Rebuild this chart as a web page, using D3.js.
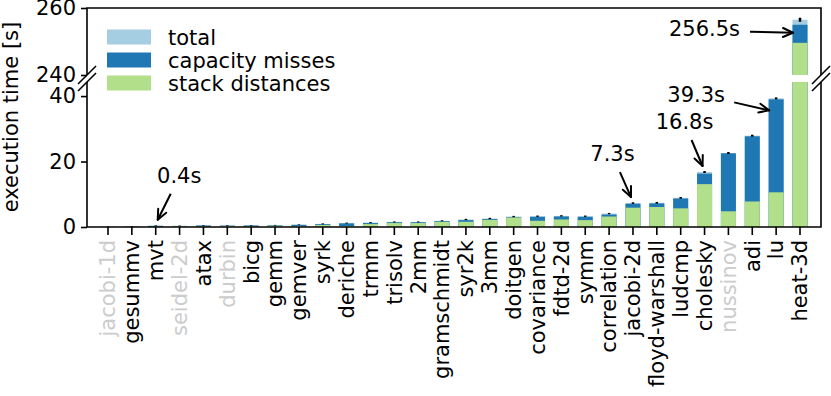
<!DOCTYPE html>
<html>
<head>
<meta charset="utf-8">
<script src="https://cdn.jsdelivr.net/npm/d3@7"></script>
<style>
	body { margin: 0; background: #fff; }
	svg { display: block; font-family: "DejaVu Sans", sans-serif; }
</style>
</head>
<body>
<div id="chart"></div>
<script>
// benchmarks, sorted by total time
var benchmarks = ["jacobi-1d", "gesummv", "mvt", "seidel-2d", "atax", "durbin", "bicg", "gemm",
	"gemver", "syrk", "deriche", "trmm", "trisolv", "2mm", "gramschmidt", "syr2k", "3mm", "doitgen",
	"covariance", "fdtd-2d", "symm", "correlation", "jacobi-2d", "floyd-warshall", "ludcmp",
	"cholesky", "nussinov", "adi", "lu", "heat-3d"];

// greyed out benchmarks
var greyed = ["jacobi-1d", "seidel-2d", "durbin", "nussinov"];

// execution times [s]
var total = [0.05, 0.12, 0.4, 0.35, 0.5, 0.5, 0.5, 0.55, 0.7, 0.95, 1.2, 1.35, 1.55, 1.55, 1.9,
	2.3, 2.6, 3.2, 3.3, 3.4, 3.3, 4.1, 7.3, 7.4, 8.9, 16.8, 22.6, 27.9, 39.3, 256.5];
var capacityMisses = [0.03, 0.1, 0.35, 0.32, 0.45, 0.4, 0.45, 0.5, 0.65, 0.85, 1.1, 1.2, 1.45, 1.45, 1.8,
	2.1, 2.45, 3.0, 3.1, 3.2, 3.1, 3.8, 7.1, 7.2, 8.7, 16.3, 22.5, 27.7, 39.0, 255.0];
var stackDistances = [0.02, 0.05, 0.1, 0.3, 0.15, 0.3, 0.15, 0.4, 0.3, 0.6, 0.3, 0.9, 1.2, 1.2, 1.6,
	1.6, 2.2, 2.9, 1.9, 2.3, 2.1, 3.2, 5.9, 6.1, 5.7, 13.1, 4.8, 7.8, 10.6, 249.6];

// error bars (std dev)
var errTotal = [0.1, 0.1, 0.1, 0.1, 0.1, 0.1, 0.1, 0.1, 0.1, 0.15, 0.15, 0.15, 0.15, 0.15, 0.15,
	0.2, 0.2, 0.2, 0.2, 0.2, 0.2, 0.2, 0.25, 0.25, 0.25, 0.3, 0.3, 0.3, 0.3, 0.6];
var errCapacity = [0, 0, 0, 0, 0, 0, 0, 0, 0, 0, 0, 0, 0, 0, 0,
	0.15, 0, 0, 0.15, 0.15, 0, 0.15, 0.25, 0.25, 0.25, 0.3, 0.3, 0.3, 0.3, 0.6];
var errStack = [0, 0, 0, 0, 0, 0, 0, 0, 0, 0, 0, 0, 0, 0, 0,
	0, 0, 0, 0, 0, 0, 0, 0, 0, 0.2, 0, 0.25, 0.25, 0.25, 0];

// broken axis ranges
var topDomain = [240, 260];
var bottomDomain = [0, 44.3];
var topTicks = [240, 260];
var bottomTicks = [0, 20, 40];

// annotations: bar index + label
var annoIndex = [2, 22, 25, 28, 29];
var annoLabels = ["0.4s", "7.3s", "16.8s", "39.3s", "256.5s"];

var series = [
	{ name: "total", values: total, err: errTotal, color: "#a6cee3" },
	{ name: "capacity misses", values: capacityMisses, err: errCapacity, color: "#1f78b4" },
	{ name: "stack distances", values: stackDistances, err: errStack, color: "#b2df8a" }
];

var width = 831, height = 396;
var fontSize = 21;
var left = 87, right = 821;
var topPanel = { y0: 8, y1: 75 };
var bottomPanel = { y0: 82, y1: 227 };

var svg = d3.select("#chart").append("svg")
	.attr("width", width)
	.attr("height", height);

// scales
var x = d3.scaleBand()
	.domain(benchmarks)
	.range([left, right])
	.paddingInner(0.37)
	.paddingOuter(0.565);

var yTop = d3.scaleLinear().domain(topDomain).range([topPanel.y1, topPanel.y0]);
var yBot = d3.scaleLinear().domain(bottomDomain).range([bottomPanel.y1, bottomPanel.y0]);

// clip each panel
var defs = svg.append("defs");
defs.append("clipPath").attr("id", "clip-top").append("rect")
	.attr("x", left).attr("y", topPanel.y0)
	.attr("width", right - left).attr("height", topPanel.y1 - topPanel.y0);
defs.append("clipPath").attr("id", "clip-bot").append("rect")
	.attr("x", left).attr("y", bottomPanel.y0)
	.attr("width", right - left).attr("height", bottomPanel.y1 - bottomPanel.y0);

var panels = [
	{ y: yTop, clip: "clip-top" },
	{ y: yBot, clip: "clip-bot" }
];

panels.forEach(function(p) {
	var g = svg.append("g").attr("clip-path", "url(#" + p.clip + ")");

	// bars, drawn on top of each other from zero
	series.forEach(function(s) {
		g.append("g").selectAll("rect")
			.data(s.values)
			.enter().append("rect")
			.attr("x", function(d, i) { return x(benchmarks[i]); })
			.attr("width", x.bandwidth())
			.attr("y", function(d) { return p.y(d); })
			.attr("height", function(d) { return Math.max(0, p.y(0) - p.y(d)); })
			.attr("fill", s.color);
	});

	// error bars
	series.forEach(function(s) {
		g.append("g").selectAll("line")
			.data(s.values)
			.enter().append("line")
			.filter(function(d, i) { return s.err[i] > 0; })
			.attr("x1", function(d, i) { return x(benchmarks[i]) + x.bandwidth() / 2; })
			.attr("x2", function(d, i) { return x(benchmarks[i]) + x.bandwidth() / 2; })
			.attr("y1", function(d, i) { return p.y(d - s.err[i]); })
			.attr("y2", function(d, i) { return p.y(d + s.err[i]); })
			.attr("stroke", "#000")
			.attr("stroke-width", 2.5);
	});
});

// y axes
var axisTop = svg.append("g")
	.attr("transform", "translate(" + left + ",0)")
	.call(d3.axisLeft(yTop).tickValues(topTicks).tickSize(6).tickPadding(5));
var axisBot = svg.append("g")
	.attr("transform", "translate(" + left + ",0)")
	.call(d3.axisLeft(yBot).tickValues(bottomTicks).tickSize(6).tickPadding(5));

[axisTop, axisBot].forEach(function(a) {
	a.select(".domain").remove();
	a.selectAll("line").attr("stroke", "#000").attr("stroke-width", 1.6);
	a.selectAll("text")
		.attr("font-size", fontSize)
		.attr("font-family", "DejaVu Sans")
		.attr("fill", "#000");
});

// x axis
var axisX = svg.append("g")
	.attr("transform", "translate(0," + bottomPanel.y1 + ")")
	.call(d3.axisBottom(x).tickSize(8).tickPadding(5));
axisX.select(".domain").remove();
axisX.selectAll("line").attr("stroke", "#000").attr("stroke-width", 1.6);
axisX.selectAll("text")
	.attr("font-size", fontSize)
	.attr("font-family", "DejaVu Sans")
	.attr("text-anchor", "end")
	.attr("transform", "rotate(-90)")
	.attr("x", -13)
	.attr("y", 0)
	.attr("dy", "0.35em")
	.attr("fill", function(d) { return greyed.indexOf(d) >= 0 ? "#cccccc" : "#000"; });

// spines
var spine = svg.append("g").attr("stroke", "#000").attr("stroke-width", 1.6).attr("fill", "none");
spine.append("path").attr("d", "M" + left + "," + topPanel.y1 + "V" + topPanel.y0 + "H" + right + "V" + topPanel.y1);
spine.append("path").attr("d", "M" + left + "," + bottomPanel.y0 + "V" + bottomPanel.y1 + "H" + right + "V" + bottomPanel.y0);

// break marks
var d = 9;
[left, right].forEach(function(bx) {
	[topPanel.y1, bottomPanel.y0].forEach(function(by) {
		spine.append("line")
			.attr("x1", bx - d).attr("y1", by + d)
			.attr("x2", bx + d).attr("y2", by - d);
	});
});

// y label
svg.append("text")
	.attr("transform", "translate(18,117) rotate(-90)")
	.attr("text-anchor", "middle")
	.attr("font-size", fontSize)
	.text("execution time [s]");

// legend
var legend = svg.append("g").attr("transform", "translate(107,37)");
var item = legend.selectAll("g")
	.data(series)
	.enter().append("g")
	.attr("transform", function(s, i) { return "translate(0," + (i * 23) + ")"; });
item.append("rect")
	.attr("x", 0).attr("y", -7.5)
	.attr("width", 44).attr("height", 15)
	.attr("fill", function(s) { return s.color; });
item.append("text")
	.attr("x", 61).attr("y", 0)
	.attr("dy", "0.36em")
	.attr("font-size", fontSize)
	.text(function(s) { return s.name; });

// annotations: offsets relative to bar centre / top
// [tip dx, tip dy, start dx, start dy, text dx, text dy]
var annoOffsets = [
	[2, -6, 15, -32, 23.5, -43],
	[-2, -6, -13, -31, -20.5, -42.5],
	[-2, -6, -13, -32, -20, -43.5],
	[-7, 12, -42, 4, -80, 4],
	[-7, 13, -50, 12, -95.5, 16.5]
];

var anno = svg.append("g");
annoIndex.forEach(function(bi, k) {
	var o = annoOffsets[k];
	var v = total[bi];
	var cx = x(benchmarks[bi]) + x.bandwidth() / 2;
	var cy = v > topDomain[0] ? yTop(v) : yBot(v);
	var tx = cx + o[0], ty = cy + o[1];
	var sx = cx + o[2], sy = cy + o[3];

	anno.append("line")
		.attr("x1", sx).attr("y1", sy)
		.attr("x2", tx).attr("y2", ty)
		.attr("stroke", "#000").attr("stroke-width", 2);

	// open arrow head
	var ang = Math.atan2(ty - sy, tx - sx);
	var hl = 11, ha = 0.42;
	[-ha, ha].forEach(function(a) {
		anno.append("line")
			.attr("x1", tx).attr("y1", ty)
			.attr("x2", tx - hl * Math.cos(ang + a))
			.attr("y2", ty - hl * Math.sin(ang + a))
			.attr("stroke", "#000").attr("stroke-width", 2)
			.attr("stroke-linecap", "round");
	});

	anno.append("text")
		.attr("x", cx + o[4]).attr("y", cy + o[5])
		.attr("text-anchor", "middle")
		.attr("font-size", fontSize)
		.text(annoLabels[k]);
});
</script>
</body>
</html>
